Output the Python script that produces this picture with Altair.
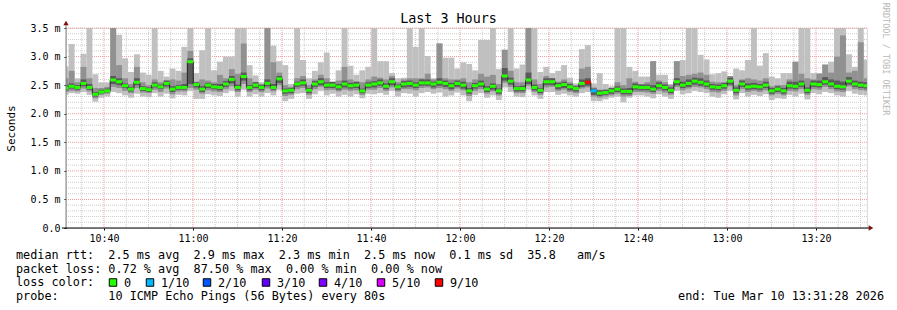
import altair as alt
import pandas as pd

# ---------------- data (one entry per 80 s step, first and last are partial) ----------------
STEP_START = "2026-03-10 10:30:44"
STEP_SECONDS = 80

MED = [2.45, 2.48, 2.46, 2.53, 2.46, 2.34, 2.38, 2.40, 2.59, 2.56, 2.49, 2.43, 2.55, 2.44, 2.42, 2.50, 2.47, 2.53, 2.43, 2.46, 2.46, 2.91, 2.51, 2.43, 2.50, 2.47, 2.46, 2.52,
       2.60, 2.46, 2.65, 2.46, 2.50, 2.46, 2.53, 2.46, 2.61, 2.40, 2.41, 2.52, 2.54, 2.41, 2.52, 2.56, 2.50, 2.50, 2.47, 2.52, 2.49, 2.50, 2.40, 2.50, 2.52, 2.54, 2.48,
       2.56, 2.47, 2.52, 2.53, 2.50, 2.54, 2.54, 2.52, 2.55, 2.53, 2.49, 2.53, 2.50, 2.40, 2.49, 2.52, 2.43, 2.48, 2.40, 2.66, 2.57, 2.44, 2.44, 2.59, 2.46, 2.41, 2.56,
       2.56, 2.49, 2.51, 2.47, 2.44, 2.53, 2.55, 2.40, 2.36, 2.37, 2.40, 2.43, 2.39, 2.39, 2.47, 2.46, 2.46, 2.43, 2.49, 2.46, 2.41, 2.56, 2.50, 2.53, 2.57, 2.55, 2.52,
       2.47, 2.46, 2.49, 2.57, 2.41, 2.52, 2.47, 2.48, 2.47, 2.50, 2.40, 2.43, 2.40, 2.49, 2.48, 2.52, 2.41, 2.52, 2.51, 2.56, 2.52, 2.48, 2.47, 2.57, 2.52, 2.50, 2.49]

MAX = [2.83, 3.22, 2.62, 3.05, 3.90, 2.69, 2.55, 2.55, 3.90, 3.38, 2.97, 2.73, 3.04, 2.72, 2.68, 3.90, 2.75, 2.65, 2.79, 2.75, 3.17, 3.90, 2.71, 3.11, 3.90, 2.76, 2.91, 3.00,
       3.00, 3.90, 3.90, 2.85, 2.67, 2.55, 3.90, 3.19, 2.92, 2.85, 2.52, 3.90, 2.94, 2.62, 2.75, 2.90, 3.07, 2.55, 2.76, 3.90, 2.84, 2.68, 2.76, 2.82, 3.90, 2.92, 2.92,
       2.71, 2.62, 2.63, 3.90, 3.17, 3.90, 3.01, 2.62, 3.23, 2.98, 2.98, 2.79, 2.90, 2.87, 2.76, 3.29, 3.29, 3.90, 2.78, 3.12, 3.90, 2.79, 2.86, 3.90, 3.90, 2.73, 2.82,
       2.71, 2.75, 2.85, 2.63, 2.53, 3.13, 3.20, 2.53, 2.71, 2.52, 2.48, 3.90, 3.90, 2.82, 2.75, 2.65, 2.65, 2.92, 2.68, 2.68, 2.52, 2.92, 2.94, 3.90, 3.90, 3.03, 2.95,
       2.69, 2.71, 2.74, 2.62, 2.79, 2.76, 2.94, 3.90, 2.84, 3.06, 2.65, 2.62, 2.71, 2.71, 2.91, 3.90, 3.90, 2.71, 2.71, 2.86, 2.91, 3.90, 3.90, 3.04, 2.82, 3.90, 2.95]

MIN = [2.33, 2.36, 2.35, 2.38, 2.33, 2.21, 2.28, 2.30, 2.38, 2.36, 2.32, 2.28, 2.35, 2.30, 2.29, 2.36, 2.30, 2.35, 2.27, 2.33, 2.32, 2.40, 2.26, 2.26, 2.34, 2.32, 2.31, 2.36,
       2.40, 2.30, 2.42, 2.30, 2.34, 2.30, 2.36, 2.32, 2.42, 2.22, 2.26, 2.35, 2.36, 2.26, 2.34, 2.40, 2.32, 2.35, 2.30, 2.33, 2.30, 2.34, 2.27, 2.35, 2.34, 2.36, 2.33,
       2.40, 2.30, 2.36, 2.35, 2.30, 2.36, 2.38, 2.35, 2.37, 2.30, 2.32, 2.37, 2.32, 2.22, 2.33, 2.36, 2.28, 2.32, 2.24, 2.46, 2.38, 2.30, 2.29, 2.42, 2.32, 2.26, 2.38,
       2.38, 2.33, 2.35, 2.32, 2.30, 2.36, 2.38, 2.22, 2.22, 2.25, 2.28, 2.30, 2.20, 2.28, 2.32, 2.32, 2.30, 2.27, 2.34, 2.30, 2.26, 2.40, 2.34, 2.36, 2.40, 2.38, 2.36,
       2.30, 2.28, 2.34, 2.40, 2.25, 2.36, 2.30, 2.33, 2.31, 2.34, 2.24, 2.27, 2.26, 2.33, 2.30, 2.35, 2.25, 2.36, 2.34, 2.38, 2.36, 2.32, 2.30, 2.40, 2.35, 2.33, 2.32]

MID_HI = [2.62, 2.75, 2.55, 2.82, 2.62, 2.45, 2.45, 2.47, 3.90, 2.85, 2.62, 2.52, 2.82, 2.55, 2.50, 2.60, 2.55, 2.58, 2.60, 2.58, 2.72, 3.10, 2.56, 2.60, 2.58, 2.55, 2.68, 2.62,
          2.78, 2.70, 3.23, 2.62, 2.56, 2.52, 3.90, 2.90, 2.72, 2.50, 2.47, 2.62, 2.66, 2.50, 2.60, 2.68, 2.62, 2.52, 2.58, 2.82, 2.60, 2.56, 2.55, 2.60, 2.65, 2.63, 2.60,
          2.66, 2.55, 2.60, 2.62, 2.62, 2.62, 2.70, 2.60, 3.23, 2.62, 2.60, 2.60, 2.62, 2.55, 2.60, 2.70, 2.65, 2.68, 2.52, 3.12, 2.75, 2.55, 2.55, 3.90, 2.60, 2.52, 2.66,
          2.62, 2.56, 2.60, 2.55, 2.50, 2.79, 2.82, 2.46, 2.42, 2.42, 2.44, 2.55, 2.50, 2.62, 2.56, 2.52, 2.55, 2.92, 2.58, 2.55, 2.50, 2.92, 2.66, 2.68, 2.70, 2.72, 2.68,
          2.56, 2.55, 2.55, 2.66, 2.50, 2.60, 2.62, 2.60, 2.58, 2.62, 2.48, 2.50, 2.50, 2.60, 2.91, 2.70, 2.62, 2.60, 2.70, 2.86, 2.72, 3.00, 3.37, 2.72, 2.75, 3.25, 2.62]

MID_LO = [2.38, 2.40, 2.39, 2.44, 2.39, 2.27, 2.33, 2.35, 2.47, 2.45, 2.40, 2.36, 2.45, 2.37, 2.36, 2.42, 2.38, 2.44, 2.34, 2.39, 2.39, 2.45, 2.42, 2.35, 2.41, 2.39, 2.38, 2.43,
          2.48, 2.38, 2.52, 2.38, 2.42, 2.38, 2.44, 2.39, 2.50, 2.31, 2.33, 2.43, 2.45, 2.33, 2.43, 2.47, 2.41, 2.42, 2.39, 2.42, 2.40, 2.41, 2.33, 2.42, 2.42, 2.45, 2.40,
          2.46, 2.39, 2.43, 2.43, 2.41, 2.45, 2.46, 2.43, 2.45, 2.43, 2.40, 2.44, 2.41, 2.31, 2.40, 2.43, 2.35, 2.39, 2.32, 2.54, 2.47, 2.36, 2.36, 2.49, 2.38, 2.33, 2.46,
          2.47, 2.40, 2.42, 2.38, 2.36, 2.44, 2.46, 2.30, 2.28, 2.30, 2.32, 2.35, 2.30, 2.31, 2.38, 2.38, 2.37, 2.35, 2.40, 2.37, 2.33, 2.47, 2.41, 2.44, 2.47, 2.46, 2.43,
          2.38, 2.37, 2.40, 2.48, 2.32, 2.43, 2.38, 2.40, 2.38, 2.41, 2.32, 2.35, 2.32, 2.40, 2.39, 2.43, 2.33, 2.43, 2.42, 2.47, 2.43, 2.39, 2.38, 2.48, 2.43, 2.41, 2.40]

DARK_HI = [2.50, 2.53, 2.50, 2.60, 2.52, 2.38, 2.42, 2.44, 2.66, 2.62, 2.53, 2.47, 2.62, 2.48, 2.46, 2.55, 2.51, 2.58, 2.48, 2.50, 2.52, 2.97, 2.55, 2.48, 2.54, 2.52, 2.52, 2.57,
           2.66, 2.51, 2.72, 2.50, 2.55, 2.50, 2.60, 2.52, 2.66, 2.44, 2.45, 2.56, 2.60, 2.45, 2.57, 2.62, 2.55, 2.56, 2.52, 2.58, 2.54, 2.56, 2.44, 2.55, 2.57, 2.60, 2.53,
           2.62, 2.51, 2.57, 2.58, 2.55, 2.60, 2.60, 2.56, 2.62, 2.58, 2.54, 2.58, 2.56, 2.45, 2.54, 2.58, 2.48, 2.53, 2.44, 2.80, 2.63, 2.48, 2.49, 2.72, 2.51, 2.45, 2.62,
           2.62, 2.54, 2.56, 2.52, 2.48, 2.60, 2.62, 2.44, 2.41, 2.42, 2.45, 2.48, 2.44, 2.45, 2.53, 2.51, 2.51, 2.50, 2.55, 2.51, 2.46, 2.62, 2.56, 2.60, 2.63, 2.62, 2.58,
           2.52, 2.51, 2.54, 2.63, 2.46, 2.58, 2.53, 2.54, 2.52, 2.56, 2.45, 2.48, 2.45, 2.56, 2.56, 2.58, 2.46, 2.58, 2.58, 2.64, 2.60, 2.58, 2.56, 2.64, 2.58, 2.56, 2.55]

DARK_LO = [2.41, 2.44, 2.42, 2.48, 2.42, 2.30, 2.35, 2.37, 2.52, 2.50, 2.45, 2.39, 2.50, 2.40, 2.38, 2.46, 2.43, 2.48, 2.38, 2.42, 2.42, 2.52, 2.46, 2.38, 2.45, 2.43, 2.41, 2.47,
           2.53, 2.41, 2.58, 2.41, 2.45, 2.41, 2.48, 2.42, 2.54, 2.35, 2.36, 2.47, 2.49, 2.36, 2.47, 2.50, 2.45, 2.45, 2.42, 2.46, 2.44, 2.45, 2.36, 2.45, 2.46, 2.49, 2.43,
           2.50, 2.42, 2.46, 2.47, 2.45, 2.49, 2.49, 2.46, 2.49, 2.47, 2.43, 2.47, 2.44, 2.35, 2.44, 2.47, 2.38, 2.42, 2.35, 2.58, 2.51, 2.39, 2.39, 2.52, 2.41, 2.36, 2.50,
           2.50, 2.43, 2.45, 2.41, 2.39, 2.47, 2.49, 2.33, 2.31, 2.33, 2.35, 2.38, 2.34, 2.34, 2.42, 2.41, 2.41, 2.38, 2.44, 2.41, 2.36, 2.50, 2.45, 2.47, 2.51, 2.49, 2.47,
           2.42, 2.41, 2.44, 2.51, 2.36, 2.47, 2.42, 2.43, 2.42, 2.45, 2.35, 2.38, 2.35, 2.44, 2.43, 2.47, 2.36, 2.47, 2.46, 2.51, 2.47, 2.43, 2.42, 2.51, 2.47, 2.45, 2.44]

LOSS = ["0"] * 88 + ["9/10", "1/10"] + ["0"] * 46

LOSS_LABELS = ["0", "1/10", "2/10", "3/10", "4/10", "5/10", "9/10"]
LOSS_COLORS = ["#26ff00", "#00b8ff", "#0059ff", "#5e00ff", "#7e00ff", "#dd00ff", "#ff0000"]

Y_TICKS = [0.0, 0.5, 1.0, 1.5, 2.0, 2.5, 3.0, 3.5]
X_LABEL_TIMES = ["10:40", "11:00", "11:20", "11:40", "12:00", "12:20", "12:40", "13:00", "13:20"]

TITLE = "Last 3 Hours"
LINE_RTT = "median rtt:  2.5 ms avg  2.9 ms max  2.3 ms min  2.5 ms now  0.1 ms sd  35.8   am/s"
LINE_LOSS = "packet loss: 0.72 % avg  87.50 % max  0.00 % min  0.00 % now"
LINE_COLOR = "loss color:"
LINE_PROBE = "probe:       10 ICMP Echo Pings (56 Bytes) every 80s"
LINE_END = "end: Tue Mar 10 13:31:28 2026"
WATERMARK = "RRDTOOL / TOBI OETIKER"

n = len(MED)
for arr in (MAX, MIN, MID_HI, MID_LO, DARK_HI, DARK_LO, LOSS):
    assert len(arr) == n, len(arr)

# ---------------- build tables ----------------
t0 = pd.Timestamp(STEP_START)
starts = [t0 + pd.Timedelta(seconds=STEP_SECONDS * i) for i in range(n)]
ends = [s + pd.Timedelta(seconds=STEP_SECONDS) for s in starts]
fmt = "%Y-%m-%dT%H:%M:%S"
df = pd.DataFrame({
    "t": [s.strftime(fmt) for s in starts],
    "t2": [e.strftime(fmt) for e in ends],
    "med": MED, "mx": MAX, "mn": MIN, "mh": MID_HI, "ml": MID_LO,
    "dh": DARK_HI, "dl": DARK_LO, "loss": LOSS,
})
line_df = pd.DataFrame({
    "t": [s.strftime(fmt) for s in starts] + [ends[-1].strftime(fmt)],
    "med": MED + [MED[-1]],
})

day = "2026-03-10T"
x_dom = [alt.DateTime(year=2026, month=3, date=10, hours=10, minutes=31, seconds=28),
         alt.DateTime(year=2026, month=3, date=10, hours=13, minutes=31, seconds=28)]
xscale = alt.Scale(domain=x_dom)
yscale = alt.Scale(domain=[0, 3.5], nice=False, zero=False)

MONO = "DejaVu Sans Mono"

X_AXIS = alt.Axis(values=[alt.DateTime(year=2026, month=3, date=10,
                                       hours=int(s[:2]), minutes=int(s[3:])) for s in X_LABEL_TIMES],
                  format="%H:%M", labelFont=MONO, labelFontSize=10, labelColor="black",
                  labelPadding=3, tickSize=2, tickColor="black", domain=False, grid=False,
                  title=None, labelFlush=False, labelOverlap=False)
Y_AXIS = alt.Axis(values=Y_TICKS,
                  labelExpr="datum.value == 0 ? '0.0\u00a0\u00a0' : format(datum.value, '.1f') + '\u00a0m'",
                  labelFont=MONO, labelFontSize=10, labelColor="black", labelPadding=4,
                  tickSize=2, tickColor="black", domain=False, grid=False,
                  title="Seconds", titleFont=MONO, titleFontSize=11, titleFontWeight="normal",
                  titleColor="black", titleX=-55, titleY=100, titleAngle=270,
                  titleAlign="center", titleBaseline="middle")

minor_t = pd.date_range(day + "10:35:00", day + "13:30:00", freq="5min")
minor_t = [t for t in minor_t if t.minute % 20 != 0]
major_t = pd.date_range(day + "10:40:00", day + "13:20:00", freq="20min")
minor_y = [round(v * 0.1, 1) for v in range(1, 35) if v % 5 != 0]

grid_vmin = alt.Chart(pd.DataFrame({"t": [t.strftime(fmt) for t in minor_t]})).mark_rule(
    color="#cccccc", strokeWidth=1, strokeDash=[1, 1]).encode(
    x=alt.X("t:T", scale=xscale, axis=X_AXIS))
grid_vmaj = alt.Chart(pd.DataFrame({"t": [t.strftime(fmt) for t in major_t]})).mark_rule(
    color="#f29a9a", strokeWidth=1, strokeDash=[1, 1]).encode(
    x=alt.X("t:T", scale=xscale, axis=X_AXIS))
grid_hmin = alt.Chart(pd.DataFrame({"v": minor_y})).mark_rule(
    color="#cccccc", strokeWidth=1, strokeDash=[1, 1]).encode(
    y=alt.Y("v:Q", scale=yscale, axis=Y_AXIS))
grid_hmaj = alt.Chart(pd.DataFrame({"v": Y_TICKS[1:]})).mark_rule(
    color="#f29a9a", strokeWidth=1, strokeDash=[1, 1]).encode(
    y=alt.Y("v:Q", scale=yscale, axis=Y_AXIS))

base = alt.Chart(df)
x_enc = alt.X("t:T", scale=xscale, axis=X_AXIS)

def band(lo, hi, color):
    return base.mark_rect(color=color, clip=True).encode(
        x=x_enc, x2="t2:T",
        y=alt.Y(f"{lo}:Q", scale=yscale, axis=Y_AXIS), y2=f"{hi}:Q")

smoke_light = band("mn", "mx", "#c0c0c0")
smoke_mid = band("ml", "mh", "#919191")
smoke_dark = band("dl", "dh", "#5a5a5a")

median_line = alt.Chart(line_df).mark_line(
    interpolate="step-after", color="#202020", strokeWidth=1, clip=True).encode(
    x=alt.X("t:T", scale=xscale, axis=X_AXIS),
    y=alt.Y("med:Q", scale=yscale, axis=Y_AXIS))

median_blocks = base.mark_rect(yOffset=-1.5, y2Offset=1.5, clip=True).encode(
    x=x_enc, x2="t2:T",
    y=alt.Y("med:Q", scale=yscale, axis=Y_AXIS), y2="med:Q",
    color=alt.Color("loss:N", scale=alt.Scale(domain=LOSS_LABELS, range=LOSS_COLORS), legend=None))

one = pd.DataFrame({"a": [0]})
OX, OY = 66, 28

def txt(s, x, y, size=11.8, align="left", color="black", angle=0):
    return alt.Chart(one).mark_text(text=s.replace(" ", "\u00a0"), font=MONO, fontSize=size, align=align,
                                    baseline="middle", color=color, angle=angle).encode(
        x=alt.value(x), y=alt.value(y))

# legend of loss colours: one square and one label per category
LEG_BOX_X = [109, 146, 203, 262, 319, 377, 435]
LEG_Y = 282.5
legend_layers = []
for lab, col, bx in zip(LOSS_LABELS, LOSS_COLORS, LEG_BOX_X):
    legend_layers.append(alt.Chart(one).mark_square(size=56, filled=True, color=col, stroke="black",
                                                    strokeWidth=1, opacity=1).encode(
        x=alt.value(bx + 4 - OX), y=alt.value(LEG_Y - OY)))
    legend_layers.append(txt(lab, bx + 15 - OX, LEG_Y - OY))

texts = [
    txt(TITLE, 448.5 - OX, 19 - OY, size=13.4, align="center"),
    txt(LINE_RTT, 16 - OX, 254.7 - OY),
    txt(LINE_LOSS, 16 - OX, 268.5 - OY),
    txt(LINE_COLOR, 16 - OX, 282.3 - OY),
    txt(LINE_PROBE, 16 - OX, 296 - OY),
    txt(LINE_END, 884 - OX, 296 - OY, align="right"),
    txt(WATERMARK, 886 - OX, 59 - OY, size=8.5, color="#b8b8b8", angle=90, align="center"),
]

y_axis_line = alt.Chart(one).mark_rule(color="#808080", strokeWidth=1).encode(
    x=alt.value(0), y=alt.value(200), y2=alt.value(-4))
x_axis_line = alt.Chart(one).mark_rule(color="black", strokeWidth=1).encode(
    x=alt.value(-4), x2=alt.value(805), y=alt.value(200))
arrow_up = alt.Chart(one).mark_point(shape="triangle-up", filled=True, size=28, color="#7f1010", opacity=1).encode(
    x=alt.value(0), y=alt.value(-5))
arrow_right = alt.Chart(one).mark_point(shape="triangle-right", filled=True, size=28, color="#7f1010", opacity=1).encode(
    x=alt.value(805), y=alt.value(200))

chart = alt.layer(
    grid_vmin, grid_hmin, grid_vmaj, grid_hmaj,
    smoke_light, smoke_mid, smoke_dark, median_line, median_blocks,
    y_axis_line, x_axis_line, arrow_up, arrow_right, *texts, *legend_layers
).properties(
    width=801, height=200,
    padding={"left": OX, "top": OY, "right": 897 - OX - 801, "bottom": 310 - OY - 200},
    autosize=alt.AutoSizeParams(type="none"),
).configure_view(stroke=None).configure(background="white")

chart.save("out.html", embed_options={"renderer": "svg", "actions": False})
